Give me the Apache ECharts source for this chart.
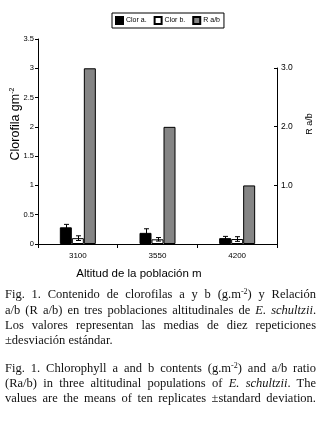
<!DOCTYPE html>
<html><head><meta charset="utf-8">
<script src="https://cdn.jsdelivr.net/npm/echarts@6/dist/echarts.min.js"></script>
<style>
html,body{margin:0;padding:0;background:#fff;}
#wrap{position:relative;width:321px;height:424px;overflow:hidden;}
#chart{position:absolute;left:0;top:0;width:321px;height:424px;}
.cap{position:absolute;left:5px;width:311px;font-family:"Liberation Serif","Times New Roman",serif;font-size:12.5px;line-height:15px;color:#111;white-space:nowrap;}
.j{text-align:justify;text-align-last:justify;white-space:normal;}
sup{font-size:8px;line-height:0;vertical-align:4px;}
</style></head>
<body><div id="wrap"><div id="chart"></div>
<div class="cap j" style="top:287px">Fig. 1. Contenido de clorofilas a y b (g.m<sup>-2</sup>) y Relación</div>
<div class="cap j" style="top:303px">a/b (R a/b) en tres poblaciones altitudinales de <i>E. schultzii</i>.</div>
<div class="cap j" style="top:318px">Los valores representan las medias de diez repeticiones</div>
<div class="cap" style="top:333px">±desviación estándar.</div>
<div class="cap j" style="top:361px">Fig. 1. Chlorophyll a and b contents (g.m<sup>-2</sup>) and a/b ratio</div>
<div class="cap j" style="top:376px">(Ra/b) in three altitudinal populations of <i>E. schultzii</i>. The</div>
<div class="cap j" style="top:391px">values are the means of ten replicates ±standard deviation.</div>
</div>
<script>
var categories = ['3100', '3550', '4200'];
var clorA = [0.285, 0.19, 0.10];
var clorASd = [0.05, 0.07, 0.03];
var clorB = [0.10, 0.08, 0.085];
var clorBSd = [0.04, 0.03, 0.04];
var ratioAB = [3.0, 2.0, 1.0];
var leftTicks = {min: 0, max: 3.5, interval: 0.5};
var rightTicks = {min: 0, max: 3, interval: 1};

var FONT = 'Liberation Sans';
var chart = echarts.init(document.getElementById('chart'));
var BW = 12;

function errSeries(name, means, sds, offset) {
  var data = means.map(function (m, i) { return [i, m, sds[i]]; });
  return {
    type: 'custom', name: name + ' sd', xAxisIndex: 0, yAxisIndex: 0, z: 5,
    data: data,
    renderItem: function (params, api) {
      var i = api.value(0), m = api.value(1), s = api.value(2);
      var top = api.coord([i, m + s]);
      var bot = api.coord([i, m - s]);
      var x = Math.round(top[0] + offset) + 0.5;
      var st = {stroke: '#000', lineWidth: 1};
      return {type: 'group', children: [
        {type: 'line', shape: {x1: x, y1: top[1], x2: x, y2: bot[1]}, style: st},
        {type: 'line', shape: {x1: x - 2.5, y1: top[1], x2: x + 2.5, y2: top[1]}, style: st},
        {type: 'line', shape: {x1: x - 2.5, y1: bot[1], x2: x + 2.5, y2: bot[1]}, style: st}
      ]};
    }
  };
}

var option = {
  animation: false,
  textStyle: {fontFamily: FONT},
  legend: {
    left: 112, top: 13,
    data: ['Clor a.', 'Clor b.', 'R a/b'],
    icon: 'rect',
    borderColor: '#000', borderWidth: 1, borderRadius: 0,
    padding: [3, 4, 3, 3], itemGap: 7, itemWidth: 7, itemHeight: 7,
    textStyle: {fontSize: 7, color: '#000', fontFamily: FONT, padding: [0, 0, 0, -2]},
    selectedMode: false
  },
  grid: [
    {left: 38, right: 44, top: 39, bottom: 180},
    {left: 38, right: 44, top: 68, bottom: 180}
  ],
  xAxis: [
    {type: 'category', gridIndex: 0, data: categories,
      axisLine: {lineStyle: {color: '#000', width: 1}},
      axisTick: {show: true, length: 4, lineStyle: {color: '#000'}},
      axisLabel: {color: '#000', fontSize: 8, margin: 8, fontFamily: FONT}},
    {type: 'category', gridIndex: 1, data: categories, show: false}
  ],
  yAxis: [
    {type: 'value', gridIndex: 0, min: leftTicks.min, max: leftTicks.max, interval: leftTicks.interval,
      splitLine: {show: false},
      axisLine: {show: true, lineStyle: {color: '#000'}},
      axisTick: {show: true, length: 3, lineStyle: {color: '#000'}},
      axisLabel: {color: '#000', fontSize: 7.5, margin: 4, fontFamily: FONT}},
    {type: 'value', gridIndex: 1, position: 'right', min: rightTicks.min, max: rightTicks.max, interval: rightTicks.interval,
      splitLine: {show: false},
      axisLine: {show: true, lineStyle: {color: '#000'}},
      axisTick: {show: true, inside: true, length: 3, lineStyle: {color: '#000'}},
      axisLabel: {color: '#000', fontSize: 8.5, margin: 4, fontFamily: FONT,
        formatter: function (v) { return v === 0 ? '' : v.toFixed(1); }}}
  ],
  series: [
    {type: 'bar', name: 'Clor a.', data: clorA, barWidth: BW, barGap: '0%', xAxisIndex: 0, yAxisIndex: 0,
      itemStyle: {color: '#000', borderColor: '#000', borderWidth: 1}},
    {type: 'bar', name: 'Clor b.', data: clorB, barWidth: BW, barGap: '0%', xAxisIndex: 0, yAxisIndex: 0,
      itemStyle: {color: '#fff', borderColor: '#000', borderWidth: 1}},
    {type: 'bar', name: 'R a/b', data: ratioAB, barWidth: BW, barGap: '0%', xAxisIndex: 0, yAxisIndex: 0,
      itemStyle: {color: '#858585', borderColor: '#000', borderWidth: 1}},
    errSeries('Clor a.', clorA, clorASd, -BW),
    errSeries('Clor b.', clorB, clorBSd, 0)
  ],
  graphic: [
    {type: 'text', x: 9, y: 124, rotation: Math.PI / 2,
      style: {text: '{a|Clorofila gm}{s|-2}', align: 'center', verticalAlign: 'top', fill: '#000',
        rich: {a: {fontSize: 12.5, fontFamily: FONT, fill: '#000'},
               s: {fontSize: 7, fontFamily: FONT, fill: '#000', verticalAlign: 'top', padding: [0, 0, 6, 0]}}}},
    {type: 'text', x: 305, y: 124, rotation: Math.PI / 2,
      style: {text: 'R a/b', align: 'center', verticalAlign: 'top', fill: '#000', fontSize: 9, fontFamily: FONT}},
    {type: 'text', x: 139, y: 268,
      style: {text: 'Altitud de la población m', align: 'center', verticalAlign: 'top', fill: '#000', fontSize: 11.5, fontFamily: FONT}}
  ]
};
chart.setOption(option);
</script></body></html>
